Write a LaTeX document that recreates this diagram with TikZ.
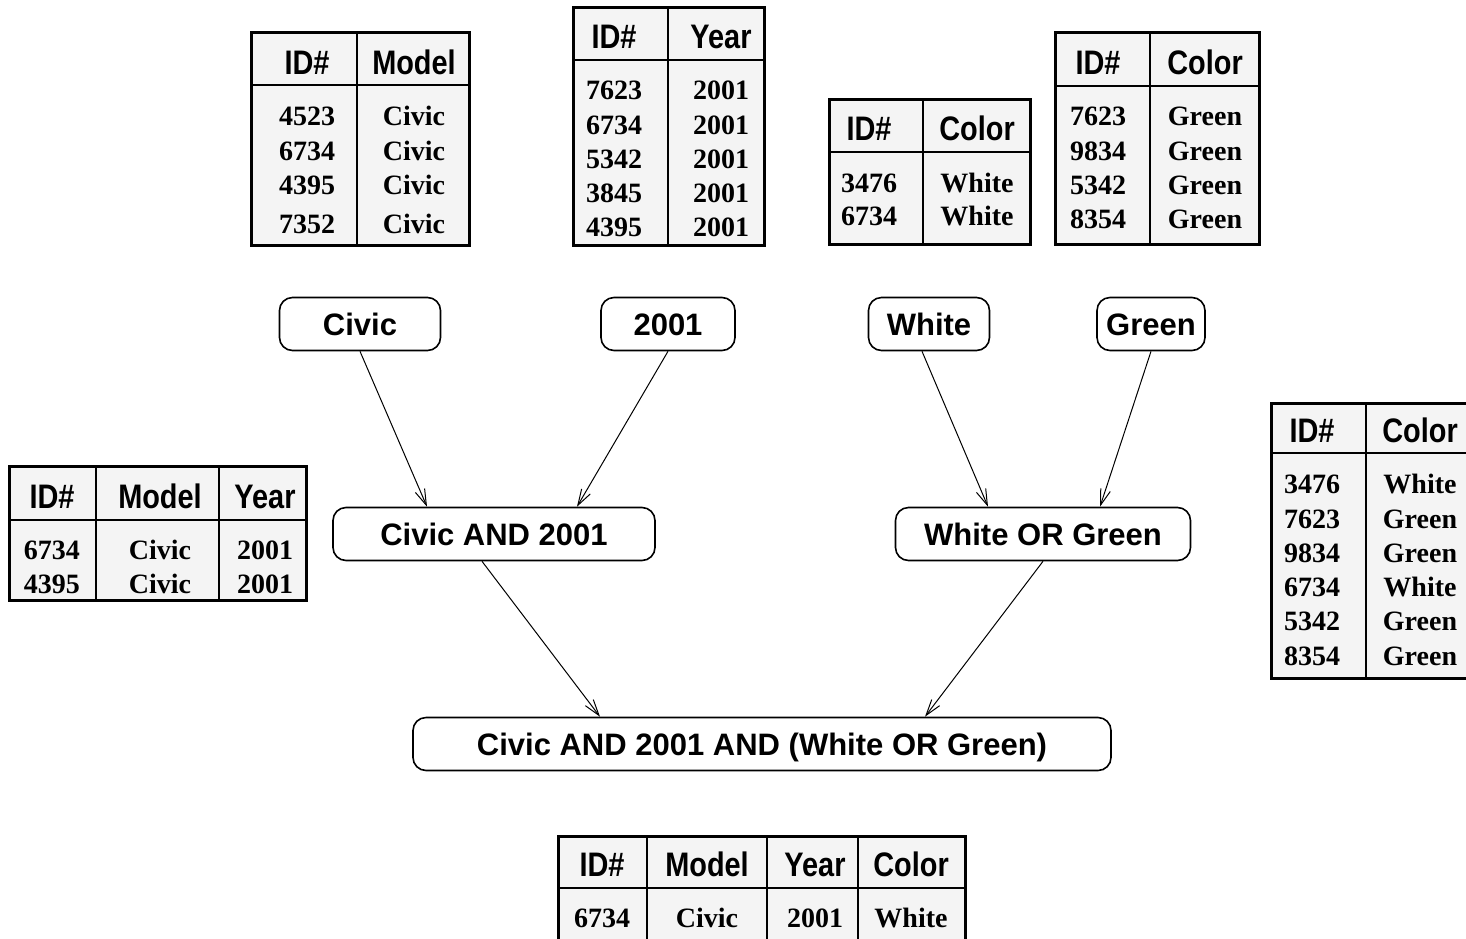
\documentclass[tikz,border=0pt]{standalone}
\usepackage{fontspec}
\setmainfont{Liberation Serif}
\setsansfont{Liberation Sans}
\newfontfamily\headfont[FakeStretch=0.85]{Liberation Sans}
\usetikzlibrary{arrows.meta}

\definecolor{tabfill}{HTML}{F4F4F4}

\tikzset{
  query/.style={draw, line width=0.8pt, rounded corners=6.5pt, fill=white,
    font=\sffamily\bfseries\fontsize{15.5}{16}\selectfont,
    text height=11pt, text depth=0pt, minimum height=26.5pt, inner sep=0pt},
  head/.style={font=\headfont\bfseries\fontsize{17}{18}\selectfont,
    inner sep=0pt, anchor=base, yshift=-6.1pt},
  cell/.style={font=\rmfamily\bfseries\fontsize{14}{15}\selectfont,
    inner sep=0pt, anchor=base, yshift=-4.7pt},
  tabframe/.style={fill=tabfill, line width=1.5pt},
  tabrule/.style={line width=0.7pt},
  flow/.style={line width=0.5pt, -{Straight Barb[length=8pt,width=5pt]}},
}

\begin{document}
\begin{tikzpicture}[x=0.5pt,y=-0.5pt]
  \useasboundingbox (0,0) rectangle (1466,938);

  % Model table
  \draw[tabframe] (251,32) rectangle (469,245);
  \draw[tabrule] (357,32) -- (357,245);
  \draw[tabrule] (251,85) -- (469,85);
  \node[head] (mhid) at (307,62) {ID\#};
  \node[head] (mhmodel) at (414,62) {Model};
  \foreach \y/\id [count=\i] in {116/4523,151/6734,185/4395,224/7352} {
    \node[cell] (mid\i) at (307,\y) {\id};
    \node[cell] (mval\i) at (414,\y) {Civic};
  }

  % Year table
  \draw[tabframe] (573,7) rectangle (764,245);
  \draw[tabrule] (668,7) -- (668,245);
  \draw[tabrule] (573,60) -- (764,60);
  \node[head] (yhid) at (614,36) {ID\#};
  \node[head] (yhyear) at (721,36) {Year};
  \foreach \y/\id [count=\i] in {90/7623,125/6734,159/5342,193/3845,227/4395} {
    \node[cell] (yid\i) at (614,\y) {\id};
    \node[cell] (yval\i) at (721,\y) {2001};
  }

  % White table
  \draw[tabframe] (829,99) rectangle (1030,244);
  \draw[tabrule] (923,99) -- (923,244);
  \draw[tabrule] (829,152) -- (1030,152);
  \node[head] (whid) at (869,128) {ID\#};
  \node[head] (whcolor) at (977,128) {Color};
  \foreach \y/\id [count=\i] in {183/3476,216/6734} {
    \node[cell] (wid\i) at (869,\y) {\id};
    \node[cell] (wval\i) at (977,\y) {White};
  }

  % Green table
  \draw[tabframe] (1055,32) rectangle (1259,244);
  \draw[tabrule] (1150,32) -- (1150,244);
  \draw[tabrule] (1055,86) -- (1259,86);
  \node[head] (ghid) at (1098,62) {ID\#};
  \node[head] (ghcolor) at (1205,62) {Color};
  \foreach \y/\id [count=\i] in {116/7623,151/9834,185/5342,219/8354} {
    \node[cell] (gid\i) at (1098,\y) {\id};
    \node[cell] (gval\i) at (1205,\y) {Green};
  }

  % White OR Green result
  \draw[tabframe] (1271,403) rectangle (1480,678);
  \draw[tabrule] (1366,403) -- (1366,678);
  \draw[tabrule] (1271,453) -- (1480,453);
  \node[head] (ohid) at (1312,430) {ID\#};
  \node[head] (ohcolor) at (1420,430) {Color};
  \foreach \y/\id/\c [count=\i] in {484/3476/White,519/7623/Green,553/9834/Green,
                                    587/6734/White,621/5342/Green,656/8354/Green} {
    \node[cell] (oid\i) at (1312,\y) {\id};
    \node[cell] (oval\i) at (1420,\y) {\c};
  }

  % Civic AND 2001 result
  \draw[tabframe] (9,466) rectangle (306,600);
  \foreach \x in {96,219} {
    \draw[tabrule] (\x,466) -- (\x,600);
  }
  \draw[tabrule] (9,520) -- (306,520);
  \node[head] (ahid) at (52,496) {ID\#};
  \node[head] (ahmodel) at (160,496) {Model};
  \node[head] (ahyear) at (265,496) {Year};
  \foreach \y/\id [count=\i] in {550/6734,584/4395} {
    \node[cell] (aid\i) at (52,\y) {\id};
    \node[cell] (amod\i) at (160,\y) {Civic};
    \node[cell] (ayear\i) at (265,\y) {2001};
  }

  % final result
  \draw[tabframe] (558,836) rectangle (965,950);
  \foreach \x in {647,767,858} {
    \draw[tabrule] (\x,836) -- (\x,950);
  }
  \draw[tabrule] (558,888) -- (965,888);
  \node[head] (fhid) at (602,864) {ID\#};
  \node[head] (fhmodel) at (707,864) {Model};
  \node[head] (fhyear) at (815,864) {Year};
  \node[head] (fhcolor) at (911,864) {Color};
  \node[cell] (fid) at (602,918) {6734};
  \node[cell] (fmod) at (707,918) {Civic};
  \node[cell] (fyear) at (815,918) {2001};
  \node[cell] (fcol) at (911,918) {White};

  % query tree
  \node[query, minimum width=80.5pt] (civic) at (360,324) {Civic};
  \node[query, minimum width=67pt] (year) at (668,324) {2001};
  \node[query, minimum width=60.5pt] (white) at (929,324) {White};
  \node[query, minimum width=54pt] (green) at (1151,324) {Green};
  \node[query, minimum width=161pt] (civand) at (494,534) {Civic AND 2001};
  \node[query, minimum width=147.5pt] (whiteor) at (1043,534) {White OR Green};
  \node[query, minimum width=349pt] (final) at (762,744) {Civic AND 2001 AND (White OR Green)};

  \draw[flow] (civic.south) -- ([xshift=-33.5pt]civand.north);
  \draw[flow] (year.south) -- ([xshift=41.5pt]civand.north);
  \draw[flow] ([xshift=-3.5pt]white.south) -- ([xshift=-27.5pt]whiteor.north);
  \draw[flow] (green.south) -- ([xshift=28.5pt]whiteor.north);
  \draw[flow] ([xshift=-6pt]civand.south) -- ([xshift=-81pt]final.north);
  \draw[flow] (whiteor.south) -- ([xshift=81.5pt]final.north);
\end{tikzpicture}
\end{document}
